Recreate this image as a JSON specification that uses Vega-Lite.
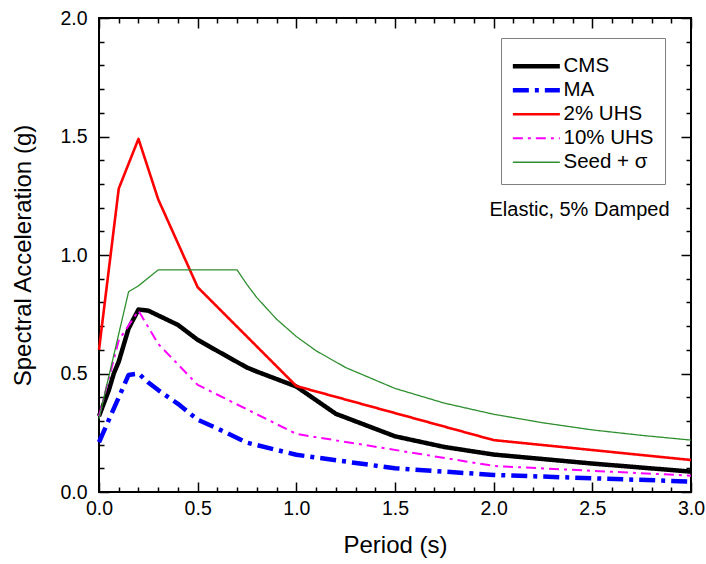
{
  "$schema": "https://vega.github.io/schema/vega-lite/v6.json",
  "width": 592,
  "height": 474,
  "autosize": "none",
  "padding": {"left": 99, "top": 18, "right": 15, "bottom": 72},
  "background": "white",
  "config": {
    "font": "Liberation Sans",
    "view": {"stroke": "black", "strokeWidth": 2},
    "axis": {
      "grid": false,
      "domain": false,
      "labelFlush": false,
      "tickColor": "black",
      "tickWidth": 1.5,
      "labelColor": "black",
      "titleColor": "black",
      "labelFont": "Liberation Sans",
      "titleFont": "Liberation Sans",
      "labelFontSize": 19.5,
      "titleFontSize": 24,
      "titleFontWeight": "normal"
    }
  },
  "datasets": {
    "curves": [
      {"series": "CMS", "period": 0.0, "sa": 0.32},
      {"series": "CMS", "period": 0.05, "sa": 0.43},
      {"series": "CMS", "period": 0.075, "sa": 0.5},
      {"series": "CMS", "period": 0.1, "sa": 0.55},
      {"series": "CMS", "period": 0.15, "sa": 0.69},
      {"series": "CMS", "period": 0.2, "sa": 0.77},
      {"series": "CMS", "period": 0.25, "sa": 0.765},
      {"series": "CMS", "period": 0.3, "sa": 0.745},
      {"series": "CMS", "period": 0.4, "sa": 0.705},
      {"series": "CMS", "period": 0.5, "sa": 0.642},
      {"series": "CMS", "period": 0.6, "sa": 0.595},
      {"series": "CMS", "period": 0.75, "sa": 0.525},
      {"series": "CMS", "period": 0.8, "sa": 0.508},
      {"series": "CMS", "period": 1.0, "sa": 0.445},
      {"series": "CMS", "period": 1.2, "sa": 0.33},
      {"series": "CMS", "period": 1.5, "sa": 0.235},
      {"series": "CMS", "period": 1.75, "sa": 0.19},
      {"series": "CMS", "period": 2.0, "sa": 0.158},
      {"series": "CMS", "period": 2.5, "sa": 0.12},
      {"series": "CMS", "period": 3.0, "sa": 0.086},

      {"series": "MA", "period": 0.0, "sa": 0.21},
      {"series": "MA", "period": 0.15, "sa": 0.494},
      {"series": "MA", "period": 0.2, "sa": 0.5},
      {"series": "MA", "period": 0.25, "sa": 0.462},
      {"series": "MA", "period": 0.3, "sa": 0.43},
      {"series": "MA", "period": 0.4, "sa": 0.372},
      {"series": "MA", "period": 0.5, "sa": 0.305},
      {"series": "MA", "period": 0.6, "sa": 0.268},
      {"series": "MA", "period": 0.75, "sa": 0.208},
      {"series": "MA", "period": 1.0, "sa": 0.157},
      {"series": "MA", "period": 1.5, "sa": 0.1},
      {"series": "MA", "period": 2.0, "sa": 0.072},
      {"series": "MA", "period": 2.5, "sa": 0.058},
      {"series": "MA", "period": 3.0, "sa": 0.044},

      {"series": "2% UHS", "period": 0.0, "sa": 0.6},
      {"series": "2% UHS", "period": 0.1, "sa": 1.28},
      {"series": "2% UHS", "period": 0.2, "sa": 1.49},
      {"series": "2% UHS", "period": 0.3, "sa": 1.235},
      {"series": "2% UHS", "period": 0.5, "sa": 0.864},
      {"series": "2% UHS", "period": 1.0, "sa": 0.447},
      {"series": "2% UHS", "period": 2.0, "sa": 0.219},
      {"series": "2% UHS", "period": 3.0, "sa": 0.135},

      {"series": "10% UHS", "period": 0.0, "sa": 0.32},
      {"series": "10% UHS", "period": 0.1, "sa": 0.64},
      {"series": "10% UHS", "period": 0.2, "sa": 0.765},
      {"series": "10% UHS", "period": 0.3, "sa": 0.625},
      {"series": "10% UHS", "period": 0.5, "sa": 0.452},
      {"series": "10% UHS", "period": 1.0, "sa": 0.245},
      {"series": "10% UHS", "period": 2.0, "sa": 0.11},
      {"series": "10% UHS", "period": 3.0, "sa": 0.069},

      {"series": "Seed + σ", "period": 0.0, "sa": 0.31},
      {"series": "Seed + σ", "period": 0.15, "sa": 0.845},
      {"series": "Seed + σ", "period": 0.2, "sa": 0.87},
      {"series": "Seed + σ", "period": 0.3, "sa": 0.937},
      {"series": "Seed + σ", "period": 0.7, "sa": 0.937},
      {"series": "Seed + σ", "period": 0.75, "sa": 0.875},
      {"series": "Seed + σ", "period": 0.8, "sa": 0.82},
      {"series": "Seed + σ", "period": 0.9, "sa": 0.729},
      {"series": "Seed + σ", "period": 1.0, "sa": 0.656},
      {"series": "Seed + σ", "period": 1.1, "sa": 0.596},
      {"series": "Seed + σ", "period": 1.25, "sa": 0.525},
      {"series": "Seed + σ", "period": 1.5, "sa": 0.437},
      {"series": "Seed + σ", "period": 1.75, "sa": 0.375},
      {"series": "Seed + σ", "period": 2.0, "sa": 0.328},
      {"series": "Seed + σ", "period": 2.25, "sa": 0.292},
      {"series": "Seed + σ", "period": 2.5, "sa": 0.262},
      {"series": "Seed + σ", "period": 2.75, "sa": 0.239},
      {"series": "Seed + σ", "period": 3.0, "sa": 0.219}
    ],
    "note": [
      {"period": 2.435, "sa": 1.19, "label": "Elastic, 5% Damped"}
    ]
  },
  "resolve": {"axis": {"x": "independent", "y": "independent"}},
  "layer": [
    {
      "data": {"name": "curves"},
      "mark": {"type": "line", "strokeJoin": "round"},
      "encoding": {
        "x": {
          "field": "period", "type": "quantitative",
          "scale": {"domain": [0, 3], "nice": false, "zero": false, "padding": 0},
          "axis": {
            "orient": "bottom", "title": "Period (s)",
            "values": [0, 0.5, 1, 1.5, 2, 2.5, 3], "format": ".1f",
            "tickSize": -10, "labelPadding": 17, "titlePadding": 16
          }
        },
        "y": {
          "field": "sa", "type": "quantitative",
          "scale": {"domain": [0, 2], "nice": false, "zero": false, "padding": 0},
          "axis": {
            "orient": "left", "title": "Spectral Acceleration (g)",
            "values": [0, 0.5, 1, 1.5, 2], "format": ".1f",
            "tickSize": -10, "labelPadding": 22, "titlePadding": 24
          }
        },
        "color": {
          "field": "series", "type": "nominal",
          "scale": {
            "domain": ["CMS", "MA", "2% UHS", "10% UHS", "Seed + σ"],
            "range": ["#000000", "#0000ff", "#ff0000", "#ff00ff", "#2f8f2f"]
          },
          "legend": {
            "title": " ",
            "titleFontSize": 6,
            "titlePadding": 1,
            "orient": "none",
            "legendX": 402,
            "legendY": 20,
            "symbolType": "M-4,0H16",
            "symbolSize": 22.09,
            "labelFontSize": 20.5,
            "labelFont": "Liberation Sans",
            "labelColor": "black",
            "labelOffset": 31,
            "rowPadding": 3,
            "padding": 11,
            "strokeColor": "#7f7f7f",
            "fillColor": "white"
          }
        },
        "strokeDash": {
          "field": "series", "type": "nominal",
          "scale": {
            "domain": ["CMS", "MA", "2% UHS", "10% UHS", "Seed + σ"],
            "range": [[1, 0], [16, 6, 4, 6], [1, 0], [10, 5, 3, 5], [1, 0]]
          },
          "legend": null
        },
        "strokeWidth": {
          "field": "series", "type": "nominal",
          "scale": {
            "type": "ordinal",
            "domain": ["CMS", "MA", "2% UHS", "10% UHS", "Seed + σ"],
            "range": [4.5, 4.5, 2.6, 2, 1.3]
          },
          "legend": null
        }
      }
    },
    {
      "data": {"name": "note"},
      "mark": {"type": "text", "fontSize": 20, "font": "Liberation Sans", "align": "center", "baseline": "middle", "color": "black"},
      "encoding": {
        "x": {
          "field": "period", "type": "quantitative",
          "scale": {"domain": [0, 3], "nice": false, "zero": false, "padding": 0},
          "axis": {
            "orient": "bottom", "title": null, "labels": false,
            "values": [0.1, 0.2, 0.3, 0.4, 0.6, 0.7, 0.8, 0.9, 1.1, 1.2, 1.3, 1.4, 1.6, 1.7, 1.8, 1.9, 2.1, 2.2, 2.3, 2.4, 2.6, 2.7, 2.8, 2.9],
            "tickSize": -5
          }
        },
        "y": {
          "field": "sa", "type": "quantitative",
          "scale": {"domain": [0, 2], "nice": false, "zero": false, "padding": 0},
          "axis": {
            "orient": "left", "title": null, "labels": false,
            "values": [0.1, 0.2, 0.3, 0.4, 0.6, 0.7, 0.8, 0.9, 1.1, 1.2, 1.3, 1.4, 1.6, 1.7, 1.8, 1.9],
            "tickSize": -5
          }
        },
        "text": {"field": "label"}
      }
    },
    {
      "data": {"name": "note"},
      "mark": {"type": "point", "opacity": 0},
      "encoding": {
        "x": {
          "field": "period", "type": "quantitative",
          "scale": {"domain": [0, 3], "nice": false, "zero": false, "padding": 0},
          "axis": {
            "orient": "top", "title": null, "labels": false,
            "values": [0, 0.5, 1, 1.5, 2, 2.5, 3], "tickSize": -10
          }
        },
        "y": {
          "field": "sa", "type": "quantitative",
          "scale": {"domain": [0, 2], "nice": false, "zero": false, "padding": 0},
          "axis": {
            "orient": "right", "title": null, "labels": false,
            "values": [0, 0.5, 1, 1.5, 2], "tickSize": -10
          }
        }
      }
    },
    {
      "data": {"name": "note"},
      "mark": {"type": "point", "opacity": 0},
      "encoding": {
        "x": {
          "field": "period", "type": "quantitative",
          "scale": {"domain": [0, 3], "nice": false, "zero": false, "padding": 0},
          "axis": {
            "orient": "top", "title": null, "labels": false,
            "values": [0.1, 0.2, 0.3, 0.4, 0.6, 0.7, 0.8, 0.9, 1.1, 1.2, 1.3, 1.4, 1.6, 1.7, 1.8, 1.9, 2.1, 2.2, 2.3, 2.4, 2.6, 2.7, 2.8, 2.9],
            "tickSize": -5
          }
        },
        "y": {
          "field": "sa", "type": "quantitative",
          "scale": {"domain": [0, 2], "nice": false, "zero": false, "padding": 0},
          "axis": {
            "orient": "right", "title": null, "labels": false,
            "values": [0.1, 0.2, 0.3, 0.4, 0.6, 0.7, 0.8, 0.9, 1.1, 1.2, 1.3, 1.4, 1.6, 1.7, 1.8, 1.9],
            "tickSize": -5
          }
        }
      }
    }
  ]
}
